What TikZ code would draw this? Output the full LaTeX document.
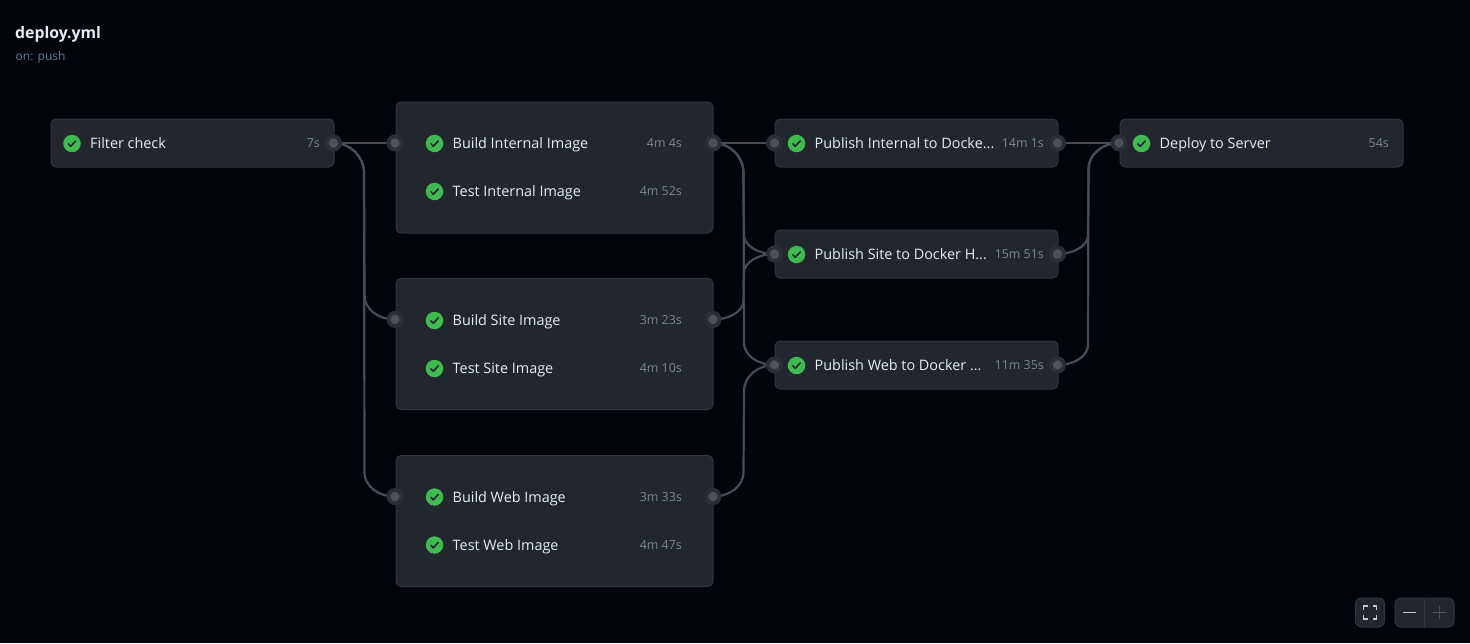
\documentclass[tikz,border=0pt]{standalone}
\usepackage{fontspec}
\setmainfont{Open Sans}
\usetikzlibrary{calc,backgrounds}
\definecolor{pagebg}{HTML}{010409}
\definecolor{boxbg}{HTML}{22262D}
\definecolor{boxline}{HTML}{30363D}
\definecolor{portring}{HTML}{2A2E36}
\definecolor{portdot}{HTML}{4B5059}
\definecolor{wirecol}{HTML}{474C55}
\definecolor{okgreen}{HTML}{3FB950}
\definecolor{maintext}{HTML}{E6EDF3}
\definecolor{mutedtext}{HTML}{7D8590}
\definecolor{subtext}{HTML}{5F8299}
\tikzset{
	jobbox/.style={draw=boxline,fill=boxbg,rounded corners=5,line width=1,anchor=north west,inner sep=0,minimum width=283,minimum height=48},
	groupbox/.style={jobbox,minimum width=317,minimum height=131},
	portnode/.style={circle,draw=portring,fill=portdot,line width=3.8,minimum size=13.2,inner sep=0},
	wire/.style={draw=wirecol,line width=2.2},
	okdot/.style={circle,fill=okgreen,minimum size=17.5,inner sep=0},
	tick/.style={draw=boxbg,line width=1.6,line cap=round,line join=round},
	joblabel/.style={anchor=base west,inner sep=0,text=maintext,font=\fontsize{14.4}{16}\selectfont},
	jobtime/.style={anchor=base east,inner sep=0,text=mutedtext,font=\fontsize{12.4}{14}\selectfont},
	ctrlbox/.style={draw=boxline,fill=boxbg,rounded corners=6,line width=1,anchor=north west,inner sep=0,minimum height=29},
}
% row: name, x of the dot, y, label, time, right end of the time
\newcommand{\jobrow}[6]{
	\node[okdot] (#1dot) at (#2,#3) {};
	\draw[tick] ($(#1dot)+(-3.6,0.3)$)--++(2.4,2.5)--++(4.9,-5.4);
	\node[joblabel] (#1label) at ($(#1dot)+(18,5.2)$) {#4};
	\node[jobtime] (#1time) at (#6,#3+4.4) {#5};
}
% wire: from, to, height of first bend, height of last bend
\newcommand{\wirebend}[4]{
	\draw[wire] (#1.center)..controls +(17,0) and +(0,{-.55*(#3)})..++(30.5,#3)
	--($(#2.center)+(-30.5,{-(#4)})$)..controls +(0,{.55*(#4)}) and +(-17,0)..(#2.center);
}
\begin{document}
\begin{tikzpicture}[x=1pt,y=-1pt]
	\node[anchor=base west,inner sep=0,text=maintext,font=\fontsize{15.8}{18}\selectfont\bfseries] (title) at (15,38.5) {deploy.yml};
	\node[anchor=base west,inner sep=0,text=subtext,font=\fontsize{12}{14}\selectfont] (trigger) at (15.5,60) {on: push};
	% boxes
	\node[jobbox] (filterbox) at (50.5,118.5) {};
	\node[groupbox] (internalbox) at (395.5,101.5) {};
	\node[groupbox] (sitebox) at (395.5,278) {};
	\node[groupbox] (webbox) at (395.5,455) {};
	\node[jobbox] (pubinternalbox) at (774.5,118.5) {};
	\node[jobbox] (pubsitebox) at (774.5,229.5) {};
	\node[jobbox] (pubwebbox) at (774.5,340.5) {};
	\node[jobbox] (deploybox) at (1119.5,118.5) {};
	% rows
	\jobrow{filter}{72}{143.5}{Filter check}{7s}{320}
	\jobrow{buildint}{434.5}{143.5}{Build Internal Image}{4m 4s}{682}
	\jobrow{testint}{434.5}{191.5}{Test Internal Image}{4m 52s}{682}
	\jobrow{buildsite}{434.5}{320.5}{Build Site Image}{3m 23s}{682}
	\jobrow{testsite}{434.5}{368.5}{Test Site Image}{4m 10s}{682}
	\jobrow{buildweb}{434.5}{497}{Build Web Image}{3m 33s}{682}
	\jobrow{testweb}{434.5}{545}{Test Web Image}{4m 47s}{682}
	\jobrow{pubint}{796.5}{143.5}{Publish Internal to Docke...}{14m 1s}{1044}
	\jobrow{pubsite}{796.5}{254.5}{Publish Site to Docker H...}{15m 51s}{1044}
	\jobrow{pubweb}{796.5}{365.5}{Publish Web to Docker ...}{11m 35s}{1044}
	\jobrow{deploy}{1141.5}{143.5}{Deploy to Server}{54s}{1389}
	% ports
	\foreach \nm/\x/\y in {filterout/333.5/143,internalin/395/143,internalout/713/143,sitein/395/319.5,siteout/713/319.5,webin/395/496.5,webout/713/496.5,
		pubintin/774.5/143,pubintout/1057.5/143,pubsitein/774.5/254,pubsiteout/1057.5/254,pubwebin/774.5/365,pubwebout/1057.5/365,deployin/1119/143}
		\node[portnode] (\nm) at (\x,\y) {};
	% wires
	\begin{scope}[on background layer]
		\fill[pagebg] (0,0) rectangle (1470,643);
		\draw[wire] (filterout.center)--(internalin.center);
		\draw[wire] (internalout.center)--(pubintin.center);
		\draw[wire] (pubintout.center)--(deployin.center);
		\wirebend{filterout}{sitein}{30}{24}
		\wirebend{filterout}{webin}{30}{24}
		\wirebend{internalout}{pubsitein}{30}{19}
		\wirebend{internalout}{pubwebin}{30}{22}
		\wirebend{siteout}{pubsitein}{-19}{-19}
		\wirebend{webout}{pubwebin}{-24}{-26}
		\wirebend{pubsiteout}{deployin}{-19}{-26}
		\wirebend{pubwebout}{deployin}{-20}{-26}
	\end{scope}
	% controls
	\node[ctrlbox,minimum width=29] (fitbtn) at (1355,597.5) {};
	\node[ctrlbox,minimum width=59] (zoombtn) at (1394.5,597.5) {};
	\draw[boxline] (zoombtn.north)--(zoombtn.south);
	\draw[draw=maintext!85!black,line width=1.5]
	($(fitbtn.center)+(-6.5,-2.5)$)--++(0,-4)--++(4,0)
	($(fitbtn.center)+(2.5,-6.5)$)--++(4,0)--++(0,4)
	($(fitbtn.center)+(6.5,2.5)$)--++(0,4)--++(-4,0)
	($(fitbtn.center)+(-2.5,6.5)$)--++(-4,0)--++(0,-4);
	\draw[draw=maintext!85!black,line width=1.5] ($(zoombtn.center)+(-21.5,0)$)--++(13,0);
	\draw[draw=portdot,line width=1.5] ($(zoombtn.center)+(8.5,0)$)--++(13,0) ($(zoombtn.center)+(15,-6.5)$)--++(0,13);
\end{tikzpicture}
\end{document}
